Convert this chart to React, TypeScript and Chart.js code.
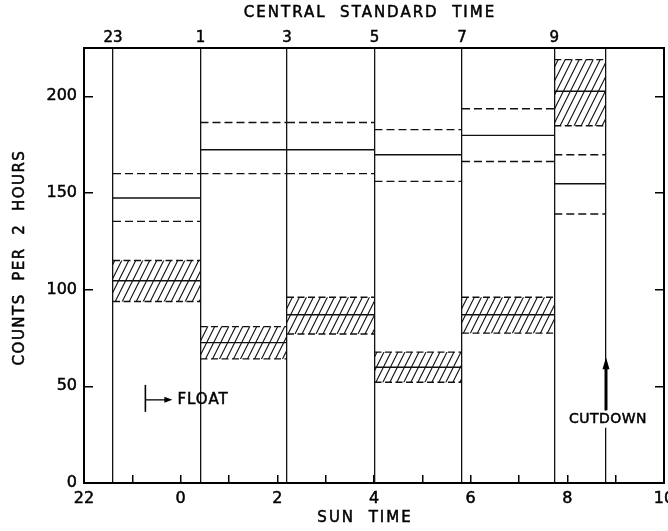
import React, { useEffect, useRef } from 'react';
import { Chart, registerables } from 'chart.js';

Chart.register(...registerables);

// Sun time in hours; 22 h of the previous day is written as -2.
const binEdges = [-1.4, 0.41, 2.2, 4.01, 5.82, 7.73, 8.8];
const cstLabels = ['23', '1', '3', '5', '7', '9', ''];
const sunLabelValues = [-2, 0, 2, 4, 6, 8, 10];
const yTickValues = [0, 50, 100, 150, 200];

// Series drawn with solid mean and dashed bounds
const meanA = [147.4, 172.4, 172.4, 169.8, 179.8, 154.8];
const highA = [160.0, 186.5, 186.5, 182.8, 193.6, 169.8];
const lowA = [135.3, 160.0, 160.0, 156.0, 166.3, 139.1];

// Hatched series
const meanB = [104.6, 72.6, 87.0, 59.9, 87.0, 202.6];
const highB = [115.1, 80.9, 96.1, 67.7, 96.1, 219.0];
const lowB = [93.9, 64.2, 77.1, 52.1, 77.5, 184.8];

const floatMark = { x: -0.73, y: 43 };
const cutdownMark = { x: 8.8, y: 33 };

const FONT = 'DejaVu Sans';
const INK = '#111';

function makeHatch(): CanvasPattern | string {
  const pc = document.createElement('canvas');
  pc.width = 7;
  pc.height = 14;
  const g = pc.getContext('2d');
  if (!g) return 'rgba(0,0,0,0.3)';
  g.strokeStyle = INK;
  g.lineWidth = 1.1;
  g.beginPath();
  for (const off of [-7, 0, 7]) {
    g.moveTo(off - 1, 16);
    g.lineTo(off + 8, -2);
  }
  g.stroke();
  const p = g.createPattern(pc, 'repeat');
  return p || 'rgba(0,0,0,0.3)';
}

const annotPlugin = {
  id: 'annot',
  afterDraw(chart: any) {
    const { ctx, chartArea } = chart;
    const xs = chart.scales.x;
    const ys = chart.scales.y;
    ctx.save();
    ctx.fillStyle = '#000';
    ctx.strokeStyle = '#000';
    const setFont = (size: number, spacing: number) => {
      ctx.font = `${size}px "${FONT}"`;
      try { (ctx as any).letterSpacing = spacing + 'px'; } catch (e) {}
    };
    const text = (t: string, x: number, y: number) => {
      ctx.lineWidth = 0.5;
      ctx.fillText(t, x, y);
      ctx.strokeText(t, x, y);
    };
    const cx = (chartArea.left + chartArea.right) / 2;
    ctx.textBaseline = 'middle';
    ctx.textAlign = 'center';
    setFont(15, 2);
    text('CENTRAL  STANDARD  TIME', cx - 4, 13);
    text('SUN  TIME', cx - 9, 518);
    ctx.save();
    ctx.translate(20, (chartArea.top + chartArea.bottom) / 2 - 8);
    ctx.rotate(-Math.PI / 2);
    setFont(15, 1.5);
    text('COUNTS  PER  2  HOURS', 0, 0);
    ctx.restore();

    // FLOAT marker
    const fx = xs.getPixelForValue(floatMark.x);
    const fy = ys.getPixelForValue(floatMark.y);
    ctx.lineWidth = 1.6;
    ctx.beginPath();
    ctx.moveTo(fx, fy - 15);
    ctx.lineTo(fx, fy + 12);
    ctx.stroke();
    ctx.lineWidth = 1.3;
    ctx.beginPath();
    ctx.moveTo(fx, fy);
    ctx.lineTo(fx + 21, fy);
    ctx.stroke();
    ctx.beginPath();
    ctx.moveTo(fx + 27, fy);
    ctx.lineTo(fx + 19, fy - 3);
    ctx.lineTo(fx + 19, fy + 3);
    ctx.closePath();
    ctx.fill();
    ctx.textAlign = 'left';
    setFont(15, 1);
    text('FLOAT', fx + 32, fy + 0.5);

    // CUTDOWN marker
    const kx = xs.getPixelForValue(cutdownMark.x);
    const ky = ys.getPixelForValue(cutdownMark.y);
    ctx.fillStyle = '#fff';
    ctx.fillRect(kx - 3, ky - 8.5, 6, 17);
    ctx.fillStyle = '#000';
    ctx.lineWidth = 3;
    ctx.beginPath();
    ctx.moveTo(kx, ky - 9);
    ctx.lineTo(kx, ky - 52);
    ctx.stroke();
    ctx.beginPath();
    ctx.moveTo(kx, ky - 62);
    ctx.lineTo(kx - 3.5, ky - 50);
    ctx.lineTo(kx + 3.5, ky - 50);
    ctx.closePath();
    ctx.fill();
    ctx.textAlign = 'center';
    setFont(14, 0.5);
    text('CUTDOWN', kx + 2, ky);
    ctx.restore();
  },
};

export default function App() {
  const ref = useRef<HTMLCanvasElement | null>(null);

  useEffect(() => {
    if (!ref.current) return;
    Chart.defaults.font.family = FONT;
    const hatch = makeHatch();
    const base = {
      borderColor: INK,
      borderWidth: 1.4,
      pointRadius: 0,
      pointHoverRadius: 0,
      tension: 0,
      fill: false as any,
    };
    const datasets: any[] = [];
    for (let i = 0; i < meanA.length; i++) {
      const s = binEdges[i];
      const e = binEdges[i + 1];
      const seg = (v: number) => [
        { x: s, y: v },
        { x: e, y: v },
      ];
      datasets.push({ ...base, data: seg(highB[i]), borderDash: [7, 3.5], fill: '+1', backgroundColor: hatch });
      datasets.push({ ...base, data: seg(lowB[i]), borderDash: [7, 3.5] });
      datasets.push({ ...base, data: seg(meanB[i]) });
      datasets.push({ ...base, data: seg(highA[i]), borderDash: [8, 4] });
      datasets.push({ ...base, data: seg(lowA[i]), borderDash: [8, 4] });
      datasets.push({ ...base, data: seg(meanA[i]) });
    }

    const border = { display: true, color: '#000', width: 2 };
    const zeroPad = (s: any) => {
      s.paddingLeft = 0;
      s.paddingRight = 0;
      s.paddingTop = 0;
      s.paddingBottom = 0;
    };
    const stroke = { textStrokeColor: '#000', textStrokeWidth: 0.5 };

    const chart = new Chart(ref.current, {
      type: 'line',
      data: { datasets },
      options: {
        animation: false,
        responsive: false,
        devicePixelRatio: 1,
        layout: { padding: 0 },
        plugins: { legend: { display: false }, tooltip: { enabled: false } },
        scales: {
          x: {
            type: 'linear',
            position: 'bottom',
            min: -2,
            max: 10,
            ticks: {
              ...stroke,
              stepSize: 1,
              autoSkip: false,
              maxRotation: 0,
              padding: 14.5,
              color: '#000',
              font: { size: 16 },
              callback: (v: any) => (sunLabelValues.includes(v) ? String((v + 24) % 24) : ''),
            },
            grid: { display: true, drawOnChartArea: false, drawTicks: true, tickLength: -8, color: '#000', lineWidth: 1.5 },
            border,
            afterFit: (s: any) => { s.height = 48; zeroPad(s); },
          },
          xTop: {
            type: 'linear',
            position: 'top',
            min: -2,
            max: 10,
            afterBuildTicks: (s: any) => { s.ticks = binEdges.map((v) => ({ value: v })); },
            ticks: {
              ...stroke,
              autoSkip: false,
              maxRotation: 0,
              padding: 1,
              color: '#000',
              font: { size: 15 },
              callback: (_v: any, i: number) => cstLabels[i],
            },
            grid: { display: true, drawOnChartArea: true, drawTicks: false, color: INK, lineWidth: 1.3 },
            border,
            afterFit: (s: any) => { s.height = 48; zeroPad(s); },
          },
          y: {
            type: 'linear',
            position: 'left',
            min: 0,
            max: 225,
            afterBuildTicks: (s: any) => { s.ticks = yTickValues.map((v) => ({ value: v })); },
            ticks: { ...stroke, padding: 16, color: '#000', font: { size: 16 } },
            grid: { display: true, drawOnChartArea: false, drawTicks: true, tickLength: -9, color: '#000', lineWidth: 1.5 },
            border,
            afterFit: (s: any) => { s.width = 84; zeroPad(s); },
          },
          yRight: {
            type: 'linear',
            position: 'right',
            min: 0,
            max: 225,
            afterBuildTicks: (s: any) => { s.ticks = yTickValues.map((v) => ({ value: v })); },
            ticks: { display: false },
            grid: { display: true, drawOnChartArea: false, drawTicks: true, tickLength: -9, color: '#000', lineWidth: 1.5 },
            border,
            afterFit: (s: any) => { s.width = 4; zeroPad(s); },
          },
        },
      } as any,
      plugins: [annotPlugin],
    });
    return () => chart.destroy();
  }, []);

  return (
    <div style={{ position: 'absolute', left: 0, top: 0, width: 668, height: 531, background: '#fff' }}>
      <canvas ref={ref} width={668} height={531} style={{ display: 'block', width: 668, height: 531 }} />
    </div>
  );
}
